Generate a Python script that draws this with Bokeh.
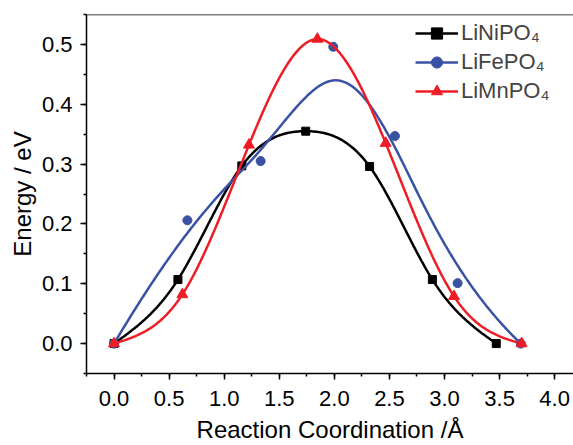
import numpy as np
from bokeh.plotting import figure
from bokeh.models import (Range1d, SingleIntervalTicker, PrintfTickFormatter,
                          Legend, LegendItem, Span)
from bokeh.embed import file_html
from bokeh.resources import INLINE

# ---- data ----
ni_x = [0.0, 0.58, 1.16, 1.74, 2.32, 2.89, 3.47]
ni_y = [0.0, 0.107, 0.297, 0.355, 0.296, 0.107, 0.0]
fe_x = [0.0, 0.666, 1.331, 1.99, 2.55, 3.119, 3.693]
fe_y = [0.0, 0.206, 0.305, 0.496, 0.347, 0.101, 0.0]
mn_x = [0.0, 0.62, 1.225, 1.846, 2.466, 3.086, 3.70]
mn_y = [0.0, 0.082, 0.332, 0.509, 0.335, 0.079, 0.0]

names = ["LiNiPO₄", "LiFePO₄", "LiMnPO₄"]
colors = ["#000000", "#3A52A4", "#EE1D25"]

x_ticks_interval = 0.5
y_ticks_interval = 0.1


def natural_spline(x, y, n=400):
    x = np.asarray(x, float); y = np.asarray(y, float)
    m = len(x); h = np.diff(x)
    A = np.zeros((m, m)); r = np.zeros(m)
    A[0, 0] = A[-1, -1] = 1.0
    for i in range(1, m - 1):
        A[i, i - 1] = h[i - 1]
        A[i, i] = 2 * (h[i - 1] + h[i])
        A[i, i + 1] = h[i]
        r[i] = 6 * ((y[i + 1] - y[i]) / h[i] - (y[i] - y[i - 1]) / h[i - 1])
    M = np.linalg.solve(A, r)
    xs = np.linspace(x[0], x[-1], n)
    idx = np.clip(np.searchsorted(x, xs) - 1, 0, m - 2)
    x0 = x[idx]; x1 = x[idx + 1]; hh = x1 - x0
    a = (x1 - xs) / hh; b = (xs - x0) / hh
    ys = a * y[idx] + b * y[idx + 1] + ((a ** 3 - a) * M[idx] + (b ** 3 - b) * M[idx + 1]) * hh ** 2 / 6
    return xs, ys


def bspline(px, py, n=400, k=3):
    P = np.column_stack([px, py]).astype(float)
    m = len(P)
    t = np.concatenate([np.zeros(k), np.arange(m - k + 1), np.full(k, m - k)]).astype(float)
    u = np.linspace(0, m - k, n)
    u[-1] -= 1e-9
    N = np.zeros((len(t) - 1, n))
    for i in range(len(t) - 1):
        N[i] = ((t[i] <= u) & (u < t[i + 1])).astype(float)
    for p in range(1, k + 1):
        Nn = np.zeros((len(t) - 1 - p, n))
        for i in range(len(t) - 1 - p):
            a = np.zeros(n); b = np.zeros(n)
            d1 = t[i + p] - t[i]
            if d1 > 0:
                a = (u - t[i]) / d1 * N[i]
            d2 = t[i + p + 1] - t[i + 1]
            if d2 > 0:
                b = (t[i + p + 1] - u) / d2 * N[i + 1]
            Nn[i] = a + b
        N = Nn
    C = N.T @ P
    return C[:, 0], C[:, 1]


FONT = "Liberation Sans"

p = figure(width=573, height=445, output_backend="svg", toolbar_location=None,
           x_range=Range1d(-0.25, 4.171), y_range=Range1d(-0.05, 0.55),
           min_border_left=86, min_border_right=0, min_border_top=14, min_border_bottom=72)
p.outline_line_color = None
p.grid.visible = False
p.background_fill_color = "white"
p.border_fill_color = "white"

for ax, iv in ((p.xaxis, x_ticks_interval), (p.yaxis, y_ticks_interval)):
    ax.ticker = SingleIntervalTicker(interval=iv, num_minor_ticks=2)
    ax.formatter = PrintfTickFormatter(format="%.1f")
    ax.axis_line_width = 1.5
    ax.axis_line_color = "black"
    ax.major_tick_line_width = 1.5
    ax.minor_tick_line_width = 1.5
    ax.major_tick_line_color = "black"
    ax.minor_tick_line_color = "black"
    ax.major_tick_in = 0
    ax.major_tick_out = 6
    ax.minor_tick_in = 0
    ax.minor_tick_out = 3
    ax.major_label_text_font = FONT
    ax.major_label_text_font_size = "22px"
    ax.major_label_text_color = "black"
    ax.axis_label_text_font = FONT
    ax.axis_label_text_font_size = "24px"
    ax.axis_label_text_font_style = "normal"
    ax.axis_label_text_color = "black"

p.xaxis.axis_label = "Reaction Coordination /Å"
p.yaxis.axis_label = "Energy / eV"
p.xaxis.major_label_standoff = 11
p.xaxis.axis_label_standoff = 7
p.yaxis.major_label_standoff = 8
p.yaxis.axis_label_standoff = 3

p.add_layout(Span(location=0.55, dimension="width", line_color="black", line_width=1.5))

# curves
nx, ny = natural_spline(ni_x, ni_y)
fx, fy = bspline(fe_x, fe_y)
mx, my = natural_spline(mn_x, mn_y)

l1 = p.line(nx, ny, line_color=colors[0], line_width=2.5)
s1 = p.scatter(ni_x, ni_y, marker="square", size=8, color=colors[0])
l2 = p.line(fx, fy, line_color=colors[1], line_width=2.5)
s2 = p.scatter(fe_x, fe_y, marker="circle", size=9, color=colors[1])
l3 = p.line(mx, my, line_color=colors[2], line_width=2.5)
s3 = p.scatter(mn_x, mn_y, marker="triangle", size=11, color=colors[2])

legend = Legend(items=[LegendItem(label=names[0], renderers=[l1, s1]),
                       LegendItem(label=names[1], renderers=[l2, s2]),
                       LegendItem(label=names[2], renderers=[l3, s3])],
                location=(329, 268), glyph_width=43, glyph_height=28, label_height=28,
                label_standoff=3, spacing=1, padding=0, margin=0,
                border_line_color=None, background_fill_alpha=0,
                label_text_font=FONT, label_text_font_size="22px")
p.add_layout(legend)

open("out.html", "w").write(file_html(p, INLINE))
